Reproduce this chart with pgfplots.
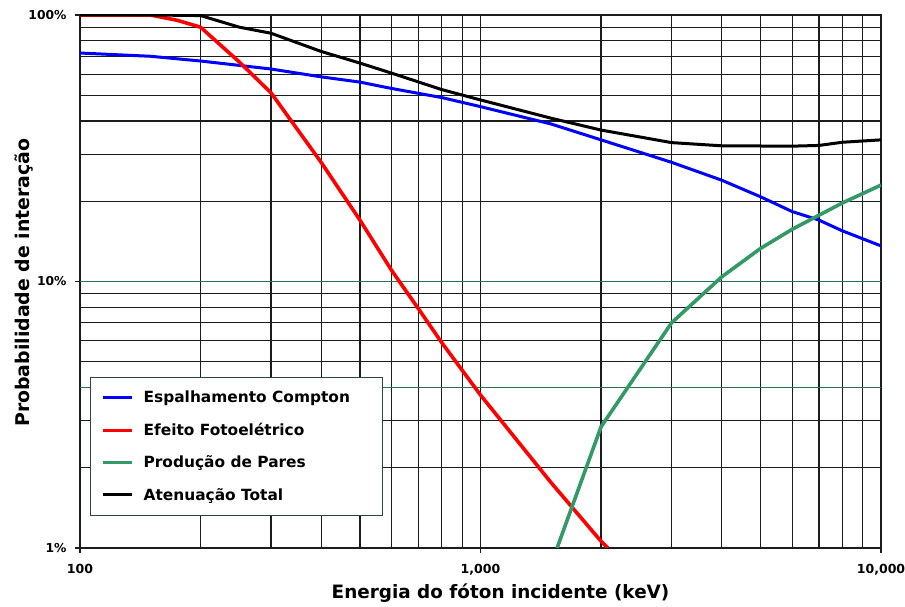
\documentclass[border=0pt]{standalone}
\usepackage{fontspec}
\setmainfont{DejaVu Sans}
\usepackage{pgfplots}
\pgfplotsset{compat=1.18}
\definecolor{cblue}{RGB}{0,0,255}
\definecolor{cred}{RGB}{255,0,0}
\definecolor{cgreen}{RGB}{51,153,102}
\definecolor{gridc}{RGB}{28,28,28}
\definecolor{gridg}{RGB}{40,115,75}
\definecolor{legc}{RGB}{45,70,55}
\newcommand{\legbox}[1]{\makebox[228pt][l]{#1}}
\begin{document}
\begin{tikzpicture}
\useasboundingbox (-80pt,-59pt) rectangle (825pt,548pt);
\begin{axis}[
  at={(0pt,0pt)}, anchor=south west,
  scale only axis, width=801pt, height=533pt,
  xmode=log, ymode=log,
  xmin=100, xmax=10000, ymin=1, ymax=100,
  xtick={100,1000,10000}, xticklabels={100,{1,000},{10,000}},
  ytick={1,10,100}, yticklabels={1\%,10\%,100\%},
  minor xtick={200,300,400,500,600,700,800,900,2000,3000,4000,5000,6000,7000,8000,9000},
  minor ytick={2,3,4,5,6,7,8,9,20,30,40,50,60,70,80,90},
  extra y ticks={4,10}, extra y tick labels={},
  extra y tick style={grid=major, major grid style={gridg, line width=1.2pt}, major tick length=0pt},
  grid=both,
  major grid style={gridc, line width=1.2pt},
  minor grid style={gridc, line width=1.2pt},
  axis line style={gridc, line width=1.2pt},
  tick align=outside, xtick pos=bottom, ytick pos=left,
  major tick length=5pt, minor tick length=0pt,
  tick style={gridc, line width=1.2pt},
  xticklabel style={font=\bfseries\fontsize{12.5}{14}\selectfont, yshift=-8pt},
  yticklabel style={font=\bfseries\fontsize{12.3}{14}\selectfont, xshift=-5pt},
  xlabel={Energia do fóton incidente (keV)},
  ylabel={Probabilidade de interação},
  xlabel style={font=\bfseries\fontsize{18.4}{20}\selectfont, at={(axis description cs:0.525,-0.0844)}, anchor=center},
  ylabel style={font=\bfseries\fontsize{18.9}{20}\selectfont, at={(axis description cs:-0.0699,0.498)}, anchor=center},
  legend cell align=left,
  legend image code/.code={\draw[#1, line width=3pt] (0pt,0pt) -- (29pt,0pt);},
  legend style={at={(axis description cs:0.0125,0.06)}, anchor=south west,
    draw=legc, line width=1.2pt, fill=white,
    font=\bfseries\fontsize{15.4}{17}\selectfont,
    inner xsep=11pt, inner ysep=4.5pt,
    row sep=0pt, column sep=10pt,
    nodes={inner xsep=0pt, inner ysep=0pt, minimum height=32.3pt}},
]
\addplot[cblue, line width=3pt] coordinates {
(100,72) (150,70) (200,67.2) (300,62.7) (400,58.6) (500,56) (600,53) (800,49)
(1000,45.3) (1500,39) (2000,34) (3000,28) (4000,24) (5000,20.8) (6000,18.3)
(7000,17) (8000,15.5) (10000,13.6)};
\addlegendentry{\legbox{Espalhamento Compton}}
\addplot[cred, line width=3.6pt] coordinates {
(100,100) (150,100) (175,95.5) (200,90) (250,66.6) (300,51) (400,28) (500,17)
(600,11) (700,7.9) (800,5.9) (1000,3.75) (1500,1.76) (2000,1.06) (2080,1.0)};
\addlegendentry{\legbox{Efeito Fotoelétrico}}
\addplot[cgreen, line width=3.6pt] coordinates {
(1553,1.0) (2000,2.85) (3000,7.0) (4000,10.4) (5000,13.3)
(6000,15.7) (8000,19.7) (10000,23)};
\addlegendentry{\legbox{Produção de Pares}}
\addplot[black, line width=3pt] coordinates {
(100,100) (150,100) (200,99.5) (250,90) (300,85.4) (400,73) (500,66) (600,60.5)
(800,52.5) (1000,48) (1500,41) (2000,37) (3000,33.2) (4000,32.3) (6000,32.2)
(7000,32.4) (8000,33.3) (10000,34)};
\addlegendentry{\legbox{Atenuação Total}}
\end{axis}
\end{tikzpicture}
\end{document}
